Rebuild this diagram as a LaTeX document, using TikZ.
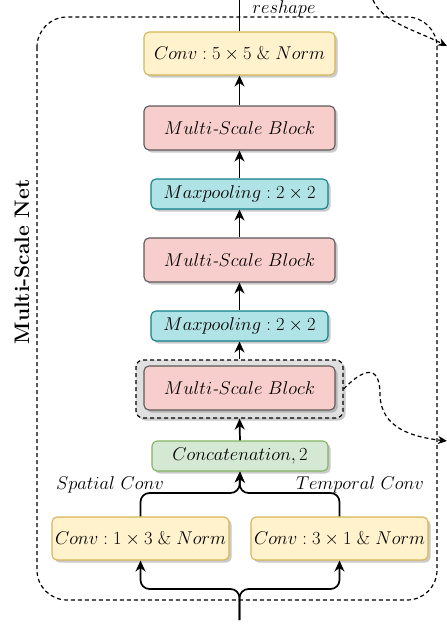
\RequirePackage{fix-cm}
\documentclass[tikz,border=0pt]{standalone}
\usetikzlibrary{arrows.meta,shadows}
\definecolor{yfill}{HTML}{FFF2CC}\definecolor{ydraw}{HTML}{D6B656}
\definecolor{pfill}{HTML}{F8CECC}\definecolor{pdraw}{HTML}{5A5A5A}
\definecolor{cfill}{HTML}{B0E3E6}\definecolor{cdraw}{HTML}{0E8088}
\definecolor{gfill}{HTML}{D5E8D4}\definecolor{gdraw}{HTML}{82B366}
\newcommand{\boxfont}{\fontsize{18.5}{22}\selectfont}
\tikzset{
  box/.style={rounded corners=5pt, line width=1.1pt, inner sep=0pt, font=\boxfont,
    drop shadow={shadow xshift=2.5pt, shadow yshift=-2.5pt, opacity=0.35, fill=black!60}},
  ybox/.style={box, fill=yfill, draw=ydraw, minimum height=43pt},
  pbox/.style={box, fill=pfill, draw=pdraw, minimum width=191pt, minimum height=44pt},
  cbox/.style={box, fill=cfill, draw=cdraw, minimum width=177pt, minimum height=30pt},
  gbox/.style={box, fill=gfill, draw=gdraw, minimum width=176pt, minimum height=30pt},
  conn/.style={line width=1.7pt, -{Stealth[length=11pt,width=10pt]}},
  plain/.style={line width=1.7pt},
  dsh/.style={line width=1.2pt, dash pattern=on 4pt off 3pt},
  lbl/.style={font=\boxfont, inner sep=0pt}
}
\begin{document}
\begin{tikzpicture}[x=1pt,y=-1pt]
\useasboundingbox (0,0) rectangle (447,640);
\clip (0,0) rectangle (447,640);
% big dashed container
\draw[dsh, rounded corners=30pt] (37,17) rectangle (437,600);
\node[inner sep=0pt, font=\fontsize{21}{25}\selectfont\bfseries, rotate=90] (net) at (22,262) {Multi-Scale Net};
% outer dashed box around third block
\node[box, fill=black!12, draw=black, dash pattern=on 4pt off 3pt, line width=1.2pt,
      minimum width=207pt, minimum height=58pt, rounded corners=7pt] (msbo) at (239.5,389) {};
% boxes
\node[ybox, minimum width=191pt] (c55) at (239.5,53.5) {$Conv: 5\times 5\;\&\; Norm$};
\node[pbox] (msb1) at (239.5,128) {$Multi\textit{-}Scale\ Block$};
\node[cbox] (mp1) at (239.5,194) {$Maxpooling: 2\times 2$};
\node[pbox] (msb2) at (239.5,260) {$Multi\textit{-}Scale\ Block$};
\node[cbox] (mp2) at (239.5,326) {$Maxpooling: 2\times 2$};
\node[pbox] (msb3) at (239.5,388) {$Multi\textit{-}Scale\ Block$};
\node[gbox] (cat) at (240,456) {$Concatenation, 2$};
\node[ybox, minimum width=177pt] (c13) at (140.5,538.5) {$Conv: 1\times 3\;\&\; Norm$};
\node[ybox, minimum width=177pt] (c31) at (339.5,538.5) {$Conv: 3\times 1\;\&\; Norm$};
% labels
\node[lbl] (sp) at (110,485) {$Spatial\ Conv$};
\node[lbl] (tp) at (360,485) {$Temporal\ Conv$};
\node[lbl, anchor=north] (rs) at (284,0.5) {$reshape$};
% coordinates
\coordinate (top) at (239.5,0);
\coordinate (in) at (239.5,620);
\coordinate (outA) at (447,46);
\coordinate (outB) at (447,441);
\coordinate (srcA) at (373,0);
% vertical chain
\draw[plain] (c55.north) -- (top);
\draw[conn] (msb1.north) -- (c55.south);
\draw[conn] (mp1.north) -- (msb1.south);
\draw[conn] (msb2.north) -- (mp1.south);
\draw[conn] (mp2.north) -- (msb2.south);
\draw[conn] (msbo.north) -- (mp2.south);
\draw[conn] (cat.north) -- (msbo.south);
% merge into concatenation
\draw[conn, rounded corners=9pt] (c13.north) -- (140.5,493) -- (239.5,493) -- (cat.south);
\draw[conn, rounded corners=9pt] (c31.north) -- (339.5,493) -- (239.5,493) -- (cat.south);
% split from input
\draw[conn, rounded corners=9pt] (in) -- (239.5,589) -- (140.5,589) -- (c13.south);
\draw[conn, rounded corners=9pt] (in) -- (239.5,589) -- (339.5,589) -- (c31.south);
% dashed outputs
\draw[dsh, -{Stealth[length=9pt,width=8pt]}] (srcA) .. controls (382,22) and (415,30) .. (outA);
\draw[dsh, -{Stealth[length=9pt,width=8pt]}] (msbo.east) .. controls (360,372) and (380,360) .. (380,395)
   .. controls (381,428) and (412,437) .. (outB);
\end{tikzpicture}
\end{document}
